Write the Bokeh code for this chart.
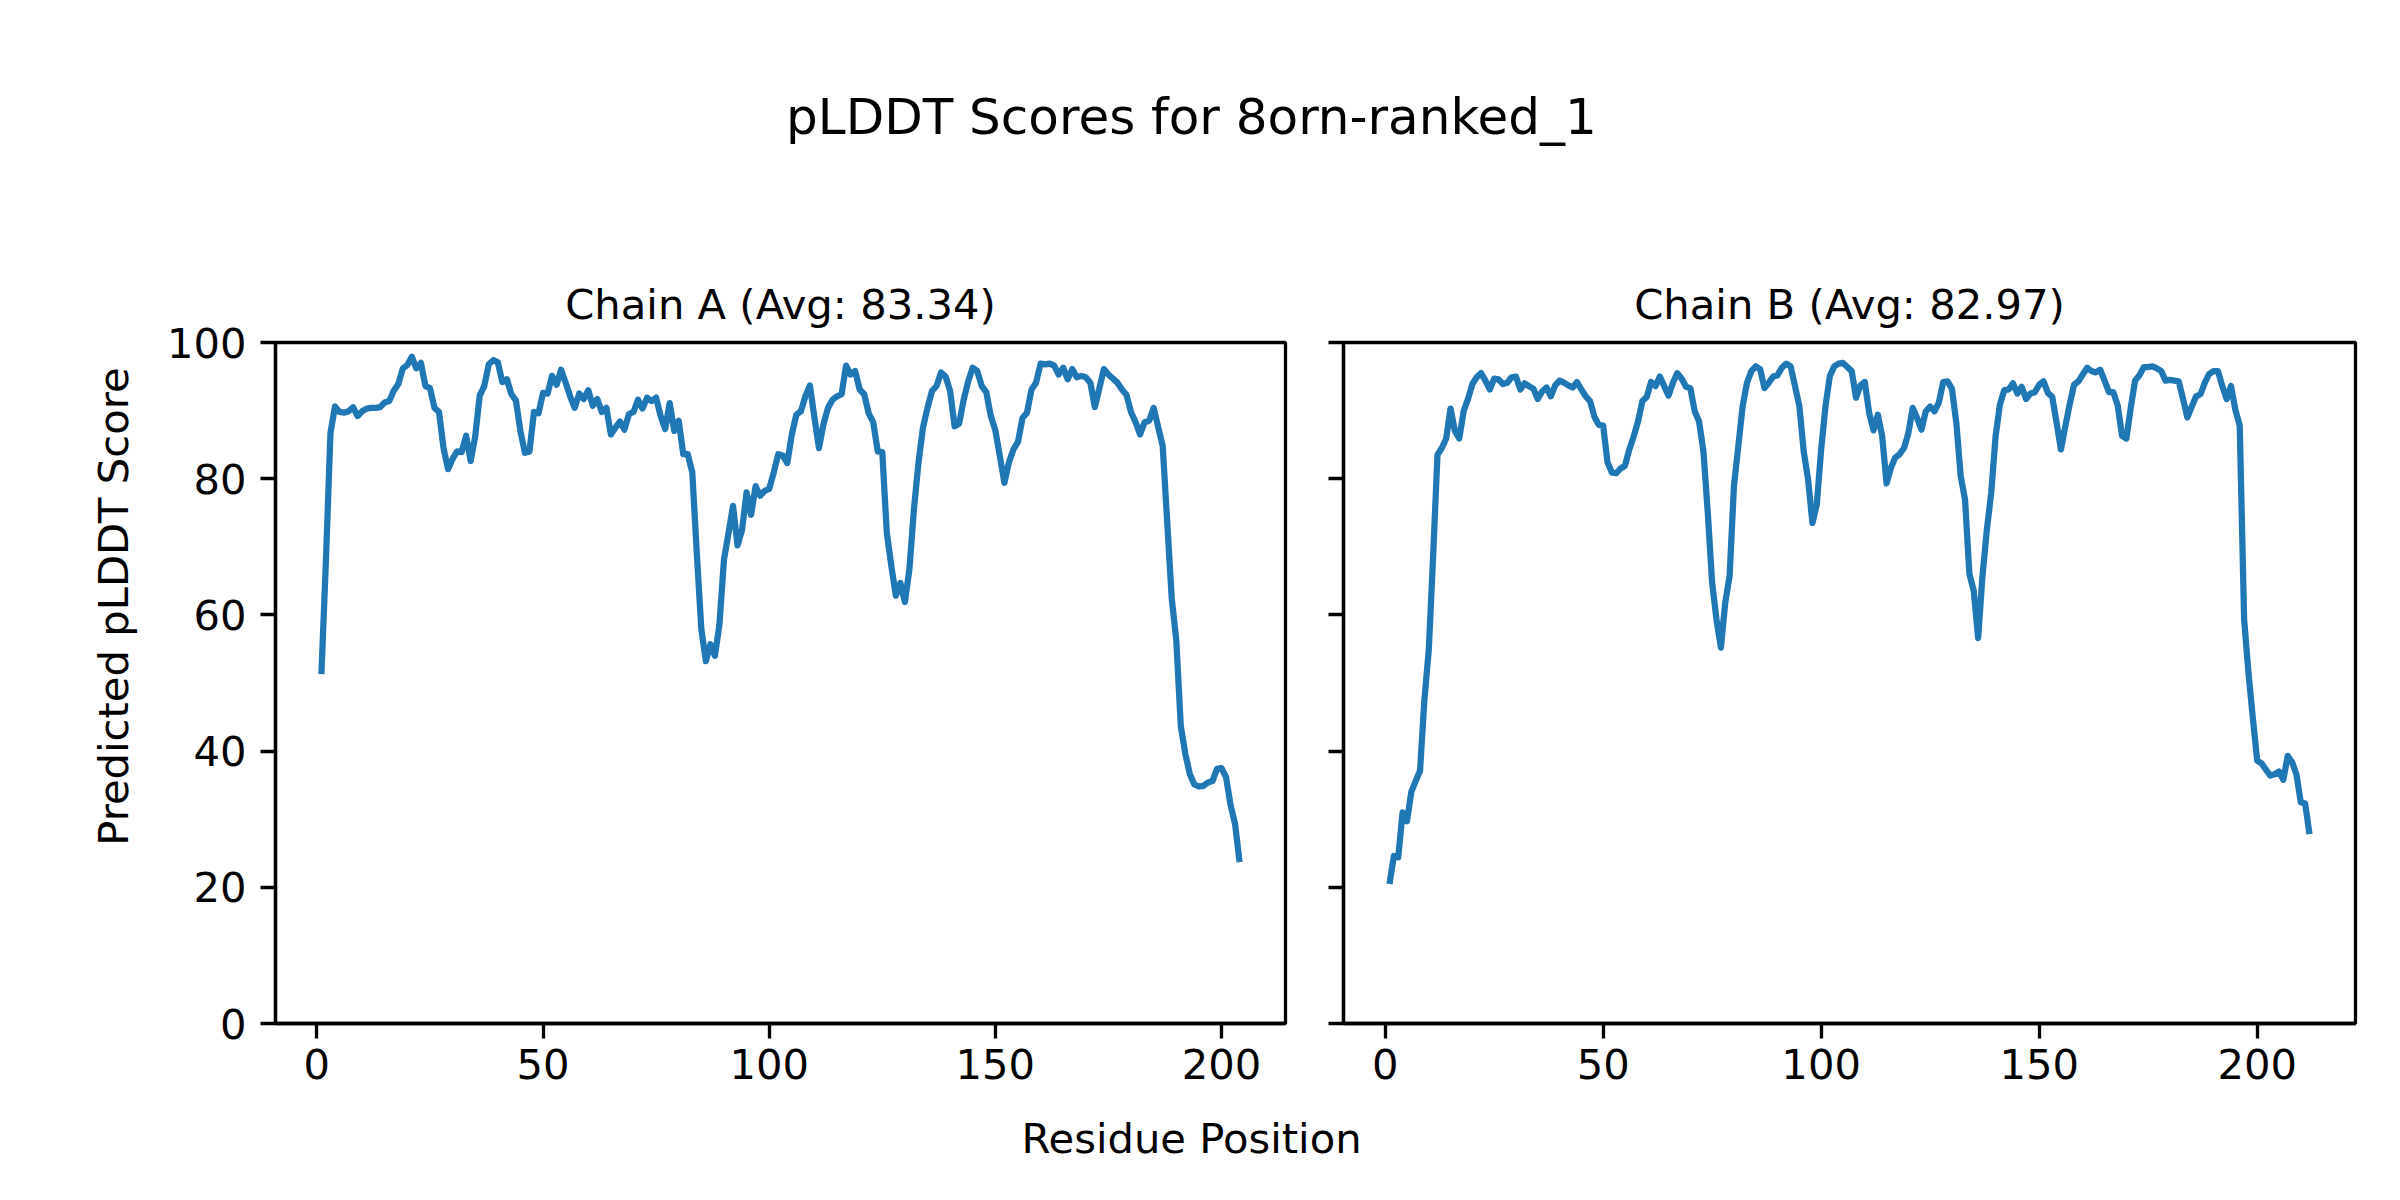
import math
from bokeh.plotting import figure
from bokeh.models import Range1d, Label, FixedTicker
from bokeh.layouts import row, column
from bokeh.embed import file_html
from bokeh.resources import INLINE

# ---------------- data ----------------
suptitle = "pLDDT Scores for 8orn-ranked_1"
title_a = "Chain A (Avg: 83.34)"
title_b = "Chain B (Avg: 82.97)"
xlabel = "Residue Position"
ylabel = "Predicted pLDDT Score"
x_ticks = [0, 50, 100, 150, 200]
y_ticks = [0, 20, 40, 60, 80, 100]

plddt_a = [
    51.3, 68.0, 86.7, 90.6, 89.8, 89.7, 89.9, 90.5, 89.2, 89.9,
    90.3, 90.4, 90.4, 90.5, 91.2, 91.4, 92.9, 93.9, 96.2, 96.7,
    97.9, 96.2, 97.0, 93.6, 93.3, 90.4, 89.8, 84.5, 81.4, 82.9,
    84.0, 83.9, 86.3, 82.6, 86.2, 92.2, 93.6, 96.8, 97.4, 97.1,
    94.2, 94.6, 92.4, 91.5, 87.0, 83.8, 84.0, 89.8, 89.6, 92.6,
    92.5, 95.1, 93.8, 96.0, 94.1, 92.1, 90.4, 92.5, 91.7, 93.0,
    90.7, 91.7, 89.8, 90.4, 86.5, 87.5, 88.4, 87.2, 89.5, 89.8,
    91.6, 90.3, 91.9, 91.4, 91.9, 89.2, 87.3, 91.1, 87.0, 88.5,
    83.6, 83.6, 80.9, 69.0, 57.9, 53.2, 55.7, 54.0, 58.6, 68.1,
    72.0, 76.0, 70.2, 72.5, 78.0, 74.7, 78.9, 77.5, 78.2, 78.5,
    80.9, 83.6, 83.4, 82.3, 86.5, 89.4, 89.9, 92.1, 93.7, 89.0,
    84.5, 88.0, 90.4, 91.6, 92.1, 92.4, 96.6, 95.3, 95.8, 93.1,
    92.4, 89.6, 88.3, 84.0, 83.9, 72.1, 67.2, 62.8, 64.7, 61.9,
    66.7, 75.5, 82.3, 87.5, 90.4, 92.9, 93.6, 95.6, 95.0, 92.9,
    87.7, 88.1, 91.6, 94.3, 96.3, 95.8, 93.6, 92.7, 89.2, 87.1,
    83.3, 79.4, 82.4, 84.3, 85.4, 88.9, 89.7, 93.1, 94.1, 96.9,
    96.8, 96.9, 96.6, 95.3, 96.3, 94.6, 96.1, 94.9, 95.1, 94.9,
    94.1, 90.5, 93.3, 96.1, 95.3, 94.7, 94.1, 93.1, 92.3, 89.8,
    88.3, 86.5, 88.3, 88.5, 90.4, 87.6, 84.8, 73.6, 62.4, 56.3,
    43.7, 39.6, 36.6, 35.1, 34.8, 34.9, 35.4, 35.6, 37.4, 37.5,
    36.2, 32.1, 29.3, 23.7,
]

plddt_b = [
    20.5, 24.6, 24.4, 31.0, 29.7, 34.0, 35.6, 37.1, 47.5, 54.8,
    68.5, 83.5, 84.5, 85.9, 90.3, 87.0, 85.9, 89.9, 91.7, 93.9,
    94.9, 95.5, 94.4, 93.1, 94.7, 94.6, 93.9, 94.1, 94.9, 95.0,
    93.1, 94.0, 93.6, 93.2, 91.7, 92.8, 93.4, 92.1, 93.7, 94.4,
    94.1, 93.7, 93.4, 94.2, 93.1, 92.1, 91.4, 89.1, 87.9, 87.8,
    82.4, 80.9, 80.8, 81.5, 81.9, 84.3, 86.2, 88.4, 91.4, 92.0,
    94.2, 93.6, 95.0, 93.6, 92.2, 94.1, 95.5, 94.7, 93.5, 93.3,
    89.9, 88.4, 84.0, 75.0, 64.7, 59.3, 55.2, 61.8, 65.7, 78.9,
    84.8, 90.7, 94.1, 95.8, 96.5, 96.1, 93.3, 94.1, 95.0, 95.2,
    96.3, 96.9, 96.5, 93.6, 90.7, 84.0, 79.9, 73.5, 76.2, 84.3,
    90.7, 95.1, 96.5, 96.9, 97.0, 96.4, 95.8, 91.9, 93.7, 94.2,
    89.7, 87.1, 89.4, 86.2, 79.3, 81.6, 83.1, 83.6, 84.5, 86.7,
    90.4, 88.9, 87.2, 89.9, 90.6, 89.9, 91.2, 94.2, 94.3, 93.2,
    88.2, 80.4, 76.9, 66.0, 63.5, 56.6, 65.7, 72.5, 77.9, 86.2,
    90.9, 93.0, 93.1, 94.0, 92.5, 93.5, 91.7, 92.5, 92.7, 93.8,
    94.3, 92.6, 92.0, 88.2, 84.3, 87.7, 90.9, 93.8, 94.3, 95.3,
    96.3, 95.8, 95.6, 96.0, 94.4, 92.7, 92.7, 90.8, 86.3, 85.9,
    90.4, 94.4, 95.2, 96.4, 96.4, 96.5, 96.2, 95.8, 94.4, 94.5,
    94.4, 94.3, 91.7, 89.0, 90.6, 92.1, 92.4, 94.1, 95.4, 95.8,
    95.8, 93.6, 91.7, 93.6, 90.1, 87.8, 59.4, 51.5, 44.9, 38.6,
    38.2, 37.3, 36.4, 36.6, 37.0, 35.8, 39.3, 38.4, 36.6, 32.5,
    32.3, 27.8,
]

residues_a = list(range(1, len(plddt_a) + 1))
residues_b = list(range(1, len(plddt_b) + 1))

# ---------------- style ----------------
FONT = "DejaVu Sans"
FS = "41.7px"
BLUE = "#1f77b4"
LW = 3.3


def blank(width, height):
    p = figure(width=width, height=height, x_range=Range1d(0, width),
               y_range=Range1d(0, height), min_border=0,
               toolbar_location=None, output_backend="svg",
               x_axis_location=None, y_axis_location=None)
    p.grid.visible = False
    p.outline_line_color = None
    p.background_fill_color = "white"
    p.border_fill_color = "white"
    return p


def panel(title, xs, ys, xr, left, right, show_ylabels):
    p = figure(frame_width=1010 if show_ylabels else 1012, frame_height=681,
               x_range=Range1d(*xr), y_range=Range1d(0, 100),
               min_border_left=left, min_border_right=right,
               min_border_top=141, min_border_bottom=78,
               toolbar_location=None, output_backend="svg",
               title=title)
    p.title.text_font = FONT
    p.title.text_font_size = FS
    p.title.text_font_style = "normal"
    p.title.text_color = "black"
    p.title.align = "center"
    p.title.standoff = 28
    p.grid.visible = False
    p.background_fill_color = "white"
    p.border_fill_color = "white"
    p.outline_line_color = "black"
    p.outline_line_width = LW
    p.outline_line_alpha = 1.0
    for ax in (p.xaxis[0], p.yaxis[0]):
        ax.axis_line_width = LW
        ax.axis_line_color = "black"
        ax.major_tick_line_width = LW
        ax.major_tick_line_color = "black"
        ax.major_tick_out = 15
        ax.major_tick_in = 0
        ax.minor_tick_line_color = None
        ax.major_label_text_font = FONT
        ax.major_label_text_font_size = FS
        ax.major_label_text_color = "black"
    p.xaxis[0].ticker = FixedTicker(ticks=x_ticks)
    p.yaxis[0].ticker = FixedTicker(ticks=y_ticks)
    p.xaxis[0].major_label_standoff = 10
    p.yaxis[0].major_label_standoff = 14
    if not show_ylabels:
        p.yaxis[0].major_label_overrides = {t: "" for t in y_ticks}
    p.line(xs, ys, line_color=BLUE, line_width=6.25, line_join="round")
    return p


top = blank(2384, 201)
top.add_layout(Label(x=1191, y=85, text=suptitle, text_align="center",
                     text_baseline="alphabetic", text_font=FONT,
                     text_font_size="50px", text_color="black"))

ylab = blank(149, 900)
ylab.add_layout(Label(x=113, y=551, text=ylabel, angle=math.pi / 2,
                      text_align="center", text_baseline="middle",
                      text_font=FONT, text_font_size=FS, text_color="black"))

pa = panel(title_a, residues_a, plddt_a, (-9.15, 214.15), 126, 29, True)
pb = panel(title_b, residues_b, plddt_b, (-9.55, 222.55), 29, 38, False)

bottom = blank(2384, 92)
bottom.add_layout(Label(x=1191, y=55, text=xlabel, text_align="center",
                        text_baseline="alphabetic", text_font=FONT,
                        text_font_size=FS, text_color="black"))

layout = column(top, row(ylab, pa, pb), bottom)

with open("out.html", "w") as f:
    f.write(file_html(layout, INLINE))
